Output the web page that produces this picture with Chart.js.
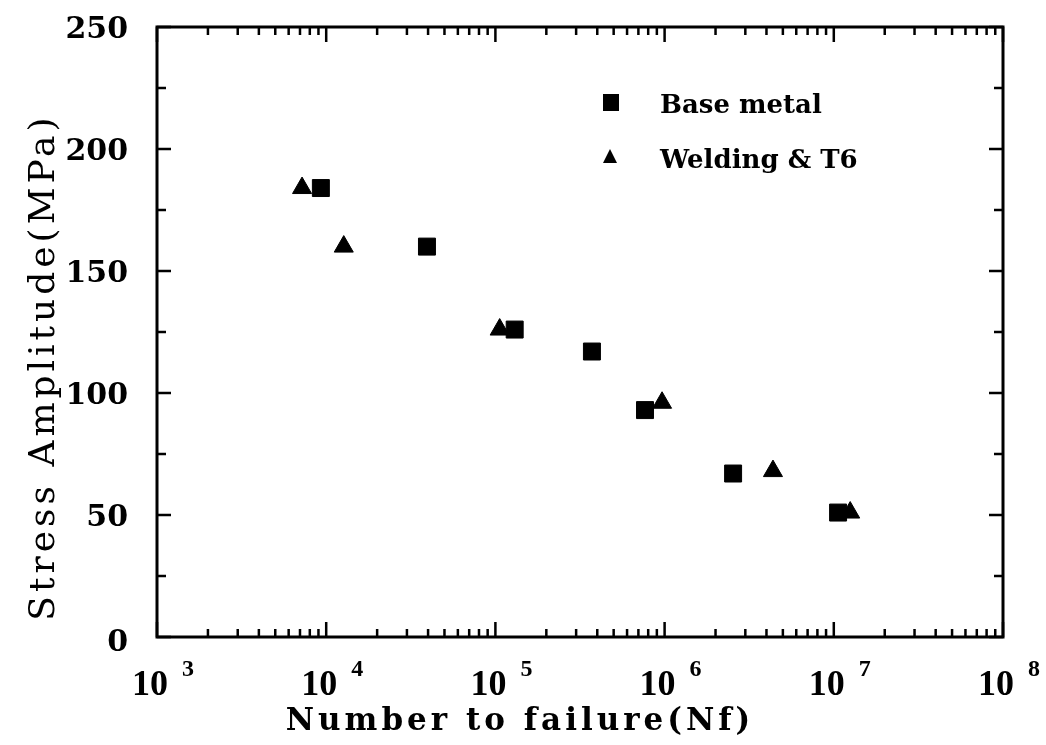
<!DOCTYPE html>
<html>
<head>
<meta charset="utf-8">
<script src="https://cdn.jsdelivr.net/npm/chart.js@4.4.0/dist/chart.umd.min.js"></script>
<style>
  html, body { margin: 0; padding: 0; background: #fff; }
  #wrap { width: 1046px; height: 745px; }
</style>
</head>
<body>
<div id="wrap"><canvas id="sn"></canvas></div>
<script>
// S-N data
const baseLabel = 'Base metal';
const baseCycles = [9300, 39400, 130000, 372000, 766000, 2540000, 10600000];
const baseStress = [184, 160, 126, 117, 93, 67, 51];

const weldLabel = 'Welding & T6';
const weldCycles = [7200, 12700, 106000, 966000, 4370000, 12500000];
const weldStress = [184, 160, 126, 96, 68, 51];

const xExponents = [3, 4, 5, 6, 7, 8];
const yTicks = [0, 50, 100, 150, 200, 250];

const toPoints = (xs, ys) => xs.map((x, i) => ({ x: x, y: ys[i] }));

// inward ticks on all four sides, box frame, tick labels, titles, legend
const frameTicks = {
    id: 'frameTicks',
    afterDraw(chart) {
        const { ctx, chartArea: a, scales } = chart;
        const xs = scales.x, ys = scales.y;
        ctx.save();
        ctx.strokeStyle = '#000';
        ctx.lineWidth = 2.5;
        ctx.beginPath();
        for (let e = xExponents[0]; e <= xExponents[xExponents.length - 1]; e++) {
            for (let m = 1; m <= 9; m++) {
                if (e === xExponents[xExponents.length - 1] && m > 1) break;
                const px = xs.getPixelForValue(m * Math.pow(10, e));
                const len = m === 1 ? 15 : 8;
                ctx.moveTo(px, a.top); ctx.lineTo(px, a.top + len);
                ctx.moveTo(px, a.bottom); ctx.lineTo(px, a.bottom - len);
            }
        }
        for (let v = 0; v <= 250; v += 25) {
            const py = ys.getPixelForValue(v);
            const len = v % 50 === 0 ? 14 : 9;
            ctx.moveTo(a.left, py); ctx.lineTo(a.left + len, py);
            ctx.moveTo(a.right, py); ctx.lineTo(a.right - len, py);
        }
        ctx.stroke();
        ctx.lineWidth = 3;
        ctx.strokeRect(a.left, a.top, a.right - a.left, a.bottom - a.top);

        ctx.fillStyle = '#000';
        // y tick labels
        ctx.font = 'bold 30px "DejaVu Serif"';
        ctx.textAlign = 'right';
        ctx.textBaseline = 'middle';
        yTicks.forEach(v => {
            const py = ys.getPixelForValue(v);
            ctx.fillText(String(v), a.left - 29, py + (v === 0 ? 6 : 3));
        });

        // x tick labels as 10 with exponent
        ctx.textBaseline = 'alphabetic';
        xExponents.forEach(e => {
            const px = xs.getPixelForValue(Math.pow(10, e));
            ctx.font = 'bold 36px "Liberation Serif"';
            ctx.textAlign = 'center';
            ctx.fillText('10', px - 7, a.bottom + 58);
            ctx.font = 'bold 24px "Liberation Serif"';
            ctx.textAlign = 'left';
            ctx.fillText(String(e), px + 25, a.bottom + 39);
        });

        // axis titles
        ctx.font = 'bold 31px "DejaVu Serif"';
        ctx.letterSpacing = '4px';
        ctx.textAlign = 'center';
        ctx.fillText('Number to failure(Nf)', 520, 730);

        ctx.save();
        ctx.translate(54, 367);
        ctx.rotate(-Math.PI / 2);
        ctx.font = '36px "DejaVu Serif"';
        ctx.letterSpacing = '4px';
        ctx.fillText('Stress Amplitude(MPa)', 0, 0);
        ctx.restore();

        // legend inside the plot
        ctx.letterSpacing = '0px';
        ctx.font = 'bold 26px "DejaVu Serif"';
        ctx.textAlign = 'left';
        ctx.fillRect(603, 94, 16, 17);
        ctx.fillText(baseLabel, 660, 113);
        ctx.beginPath();
        ctx.moveTo(610, 149); ctx.lineTo(617, 163); ctx.lineTo(603, 163);
        ctx.closePath(); ctx.fill();
        ctx.fillText(weldLabel, 660, 168);
        ctx.restore();
    }
};

new Chart(document.getElementById('sn'), {
    type: 'scatter',
    data: {
        datasets: [{
            label: baseLabel,
            data: toPoints(baseCycles, baseStress),
            pointStyle: 'rect',
            pointRadius: 12,
            pointBackgroundColor: '#000',
            pointBorderColor: '#000',
            pointBorderWidth: 1
        }, {
            label: weldLabel,
            data: toPoints(weldCycles, weldStress),
            pointStyle: 'triangle',
            pointRadius: 11,
            pointBackgroundColor: '#000',
            pointBorderColor: '#000',
            pointBorderWidth: 1
        }]
    },
    options: {
        responsive: true,
        maintainAspectRatio: false,
        animation: false,
        layout: { padding: { left: 0, right: 43, top: 27, bottom: 0 } },
        plugins: {
            legend: { display: false },
            tooltip: { enabled: false }
        },
        scales: {
            x: {
                type: 'logarithmic',
                min: 1000,
                max: 100000000,
                grid: { display: false },
                border: { display: false },
                ticks: { display: false },
                afterFit(scale) { scale.height = 108; }
            },
            y: {
                min: 0,
                max: 250,
                grid: { display: false },
                border: { display: false },
                ticks: { display: false },
                afterFit(scale) { scale.width = 157; }
            }
        }
    },
    plugins: [frameTicks]
});
</script>
</body>
</html>
